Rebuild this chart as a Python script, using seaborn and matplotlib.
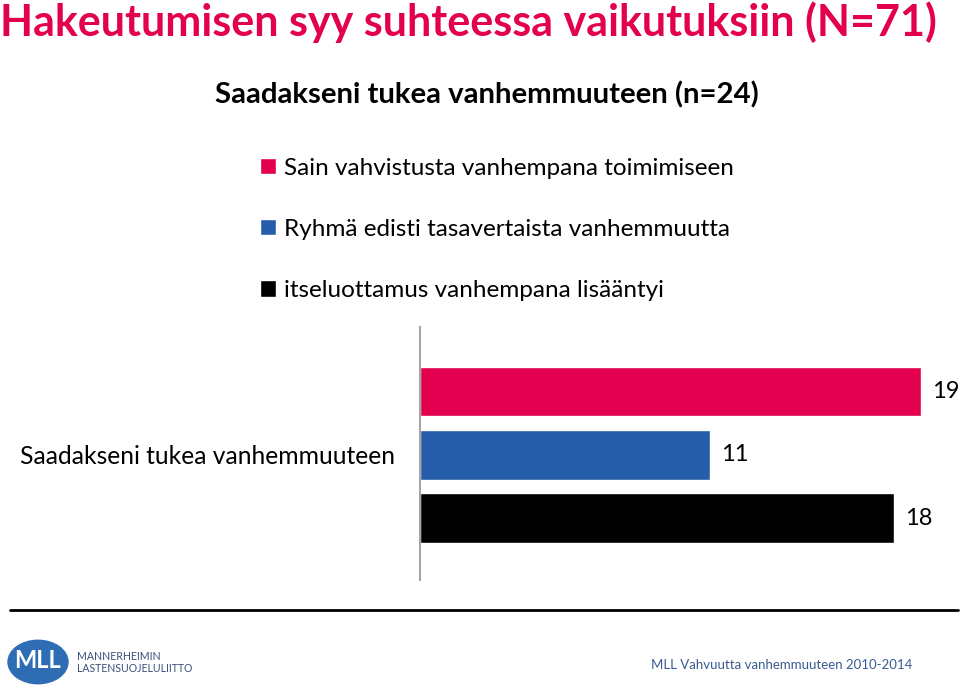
import matplotlib
matplotlib.use("Agg")
import matplotlib.pyplot as plt
import seaborn as sns
import pandas as pd
from matplotlib.patches import Circle
from matplotlib.lines import Line2D

# Data
category = "Saadakseni tukea vanhemmuuteen"
series = ["Sain vahvistusta vanhempana toimimiseen",
          "Ryhmä edisti tasavertaista vanhemmuutta",
          "itseluottamus vanhempana lisääntyi"]
values = [19, 11, 18]
colors = ["#E2004F", "#265DAB", "#000000"]

title = "Hakeutumisen syy suhteessa vaikutuksiin (N=71)"
subtitle = "Saadakseni tukea vanhemmuuteen (n=24)"
footer = "MLL Vahvuutta vanhemmuuteen 2010-2014"

sns.set_theme(style="white")
plt.rcParams["font.family"] = ["Lato", "DejaVu Sans"]
plt.rcParams["text.color"] = "black"
plt.rcParams["ytick.color"] = "black"
plt.rcParams["ytick.labelcolor"] = "black"

df = pd.DataFrame({"series": series, "value": values})

fig = plt.figure(figsize=(9.6, 6.95), dpi=100)
ax = fig.add_axes([420/960, 1-580/695, 527/960, 253/695])

sns.barplot(data=df, x="value", y="series", hue="series", palette=colors,
            orient="h", width=0.79, legend=True, ax=ax, saturation=1)

for c in ax.containers:
    ax.bar_label(c, padding=8, fontsize=17, color="black")

ax.set_xlim(0, 20)
ax.set_ylim(2.98, -1.02)
ax.set_xticks([])
ax.set_yticks([1])
ax.set_yticklabels([category], fontsize=17.7, color="black")
ax.tick_params(axis="y", length=0, pad=18)
ax.set_xlabel("")
ax.set_ylabel("")
for s in ["top", "right", "bottom"]:
    ax.spines[s].set_visible(False)
ax.spines["left"].set_color("#A6A6A6")
ax.spines["left"].set_linewidth(1.5)

sns.move_legend(ax, loc="upper left", bbox_to_anchor=(250/960, 1-148/695),
                bbox_transform=fig.transFigure, frameon=False, title=None,
                fontsize=17.5, handlelength=0.65, handleheight=0.65,
                handletextpad=0.35, labelspacing=1.65, borderaxespad=0)

fig.text(0.0, 1-22/695, title, color="#E2004F", fontsize=31, fontweight="bold",
         ha="left", va="center")
fig.text(487/960, 1-95/695, subtitle, color="black", fontsize=21.2,
         fontweight="bold", ha="center", va="center")

# footer line
fig.add_artist(Line2D([10/960, 958/960], [1-610/695, 1-610/695],
                      transform=fig.transFigure, color="black", lw=2))
# logo
fig.add_artist(Circle((38/960, 1-662/695), 30/960, transform=fig.transFigure,
                      color="#2E6DB4"))
fig.text(38/960, 1-661/695, "MLL", color="white", fontsize=17, fontweight="bold",
         ha="center", va="center")
fig.text(77/960, 1-656/695, "MANNERHEIMIN", color="#3A4F7A", fontsize=7.6,
         ha="left", va="center")
fig.text(77/960, 1-668/695, "LASTENSUOJELULIITTO", color="#3A4F7A", fontsize=7.6,
         ha="left", va="center")
fig.text(912/960, 1-665/695, footer, color="#3A5B93", fontsize=9.5,
         ha="right", va="center")

fig.savefig("out.png", dpi=100)
